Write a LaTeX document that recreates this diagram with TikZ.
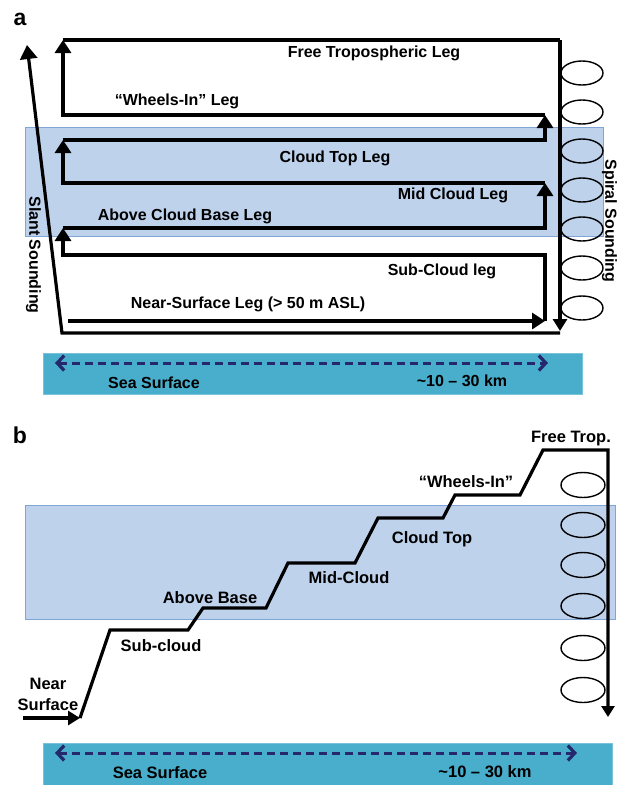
\documentclass[tikz,border=0pt]{standalone}
\usepackage{fontspec}
\setmainfont{Liberation Sans}
\usetikzlibrary{arrows.meta}
\definecolor{cloudfill}{RGB}{190,210,236}
\definecolor{cloudedge}{RGB}{130,165,215}
\definecolor{seafill}{RGB}{72,174,204}
\definecolor{seaedge}{RGB}{120,195,218}
\definecolor{navy}{RGB}{38,40,110}
\begin{document}
\begin{tikzpicture}[x=1pt,y=-1pt,
  leg/.style={line width=3.4pt, line join=miter},
  legarrow/.style={leg, -{Triangle[width=16pt,length=13pt]}},
  thinarrow/.style={line width=3.2pt, -{Triangle[width=14pt,length=12pt]}},
  lbl/.style={font=\bfseries\fontsize{16}{17}\selectfont, inner sep=0pt, text height=11.5pt, text depth=0pt},
  lblb/.style={font=\bfseries\fontsize{16.5}{17}\selectfont, inner sep=0pt, text height=11.8pt, text depth=0pt},
  panel/.style={font=\bfseries\fontsize{23}{24}\selectfont, inner sep=0pt},
  cloud/.style={fill=cloudfill, draw=cloudedge, line width=0.8pt},
  sea/.style={fill=seafill, draw=seaedge, line width=0.6pt},
  spiralring/.style={draw=black, line width=1.4pt},
  spanarrow/.style={draw=navy, line width=3pt, dash pattern=on 8pt off 5pt,
    {Straight Barb[length=7pt,width=15pt,line width=3.2pt]}-{Straight Barb[length=7pt,width=15pt,line width=3.2pt]}}
]
\useasboundingbox (0,0) rectangle (619,785);

% ================= Panel a =================
\node[panel] (pa) at (20,19) {a};
\draw[cloud] (25,127) rectangle (603,236);

% spiral rings
\foreach \yy in {73,112,151,190,229,268,308}
  \draw[spiralring] (582,\yy) ellipse [x radius=21pt, y radius=12pt];

% corners
\coordinate (nsA) at (68,321);
\coordinate (nsB) at (545,321);
\coordinate (scB) at (545,255);
\coordinate (scA) at (63,255);
\coordinate (abA) at (63,228);
\coordinate (abB) at (545,228);
\coordinate (mcB) at (545,183);
\coordinate (mcA) at (63,183);
\coordinate (ctA) at (63,140);
\coordinate (ctB) at (545,140);
\coordinate (wiB) at (545,115);
\coordinate (wiA) at (63,115);
\coordinate (ftA) at (63,40);
\coordinate (ftB) at (560,40);
\coordinate (spE) at (560,331);
\coordinate (btR) at (560,333);
\coordinate (btL) at (62,333);
\coordinate (slT) at (27,45);

\draw[legarrow] (nsA) -- (nsB);
\draw[legarrow] (nsB) -- (scB) -- (scA) -- (abA);
\draw[legarrow] (abA) -- (abB) -- (mcB);
\draw[legarrow] (mcB) -- (mcA) -- (ctA);
\draw[legarrow] (ctA) -- (ctB) -- (wiB);
\draw[legarrow] (wiB) -- (wiA) -- (ftA);
\draw[leg] (ftA) -- (ftB);
\draw[thinarrow] (ftB) -- (spE);
\draw[line width=3.2pt, line join=miter, -{Triangle[width=17pt,length=14pt]}] (btR) -- (btL) -- (slT);

\node[lbl] (tft) at (374,52) {Free Tropospheric Leg};
\node[lbl] (twi) at (177,100) {“Wheels-In” Leg};
\node[lbl] (tct) at (335,157) {Cloud Top Leg};
\node[lbl] (tmc) at (453,194) {Mid Cloud Leg};
\node[lbl] (tab) at (185,215) {Above Cloud Base Leg};
\node[lbl] (tsc) at (442,270) {Sub-Cloud leg};
\node[lbl] (tns) at (248,303) {Near-Surface Leg (> 50 m ASL)};
\node[lbl, rotate=-90] (tsl) at (35,255) {Slant Sounding};
\node[lbl, rotate=-90] (tsp) at (611,221) {Spiral Sounding};

\draw[sea] (43,353) rectangle (582,394);
\coordinate (raL) at (55,363);
\coordinate (raR) at (548,363);
\draw[spanarrow] (raL) -- (raR);
\node[lbl] (tssa) at (154,383) {Sea Surface};
\node[lbl] (tkma) at (462,381) {\textasciitilde10 – 30 km};

% ================= Panel b =================
\node[panel] (pb) at (20,435) {b};
\draw[cloud] (25,505) rectangle (615,619);

\foreach \yy in {485,525,565,606,648,690}
  \draw[spiralring] (583,\yy) ellipse [x radius=22pt, y radius=12.5pt];

\coordinate (n0) at (23,718);
\coordinate (n1) at (80,718);
\coordinate (s1) at (110,630);
\coordinate (s2) at (188,630);
\coordinate (s3) at (203,608);
\coordinate (s4) at (266,608);
\coordinate (s5) at (288,563);
\coordinate (s6) at (355,563);
\coordinate (s7) at (378,518);
\coordinate (s8) at (443,518);
\coordinate (s9) at (455,495);
\coordinate (s10) at (520,495);
\coordinate (s11) at (543,450);
\coordinate (s12) at (608,450);
\coordinate (s13) at (608,717);

\draw[thinarrow] (n0) -- (n1);
\draw[line width=3.2pt, line join=miter, -{Triangle[width=13pt,length=11pt]}]
  (n1) -- (s1) -- (s2) -- (s3) -- (s4) -- (s5) -- (s6) -- (s7) -- (s8) -- (s9) -- (s10) -- (s11) -- (s12) -- (s13);

\node[lblb] (bft) at (571,437) {Free Trop.};
\node[lblb] (bwi) at (466,482) {“Wheels-In”};
\node[lblb] (bct) at (432,538) {Cloud Top};
\node[lblb] (bmc) at (349,578) {Mid-Cloud};
\node[lblb] (bab) at (210,598) {Above Base};
\node[lblb] (bsc) at (161,646) {Sub-cloud};
\node[font=\bfseries\fontsize{16.5}{21}\selectfont, inner sep=0pt, align=center] (bns) at (48,694) {Near\\Surface};

\draw[sea] (43,743) rectangle (612,785);
\coordinate (rbL) at (55,753);
\coordinate (rbR) at (577,753);
\draw[spanarrow] (rbL) -- (rbR);
\node[lblb] (tssb) at (160,773) {Sea Surface};
\node[lblb] (tkmb) at (485,772) {\textasciitilde10 – 30 km};
\end{tikzpicture}
\end{document}
